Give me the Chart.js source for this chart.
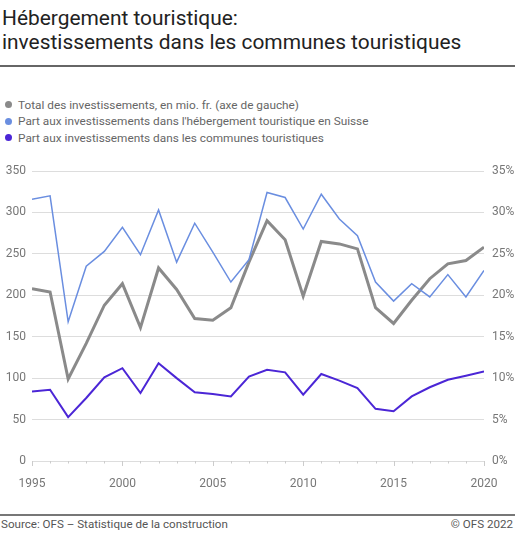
<!DOCTYPE html>
<html>
<head>
<meta charset="utf-8">
<script src="https://cdn.jsdelivr.net/npm/chart.js@4"></script>
<style>
  html, body { margin:0; padding:0; background:#fff; }
  body { width:515px; height:558px; position:relative; overflow:hidden; font-family: Roboto, "Noto Sans", sans-serif; }
  .title { position:absolute; left:2px; top:6px; font-size:20.9px; line-height:24px; color:#222; white-space:nowrap; }
  .rule { position:absolute; left:0; width:515px; background:#666; }
  .leg { position:absolute; left:0; font-size:11.8px; line-height:16px; color:#666; white-space:nowrap; }
  .leg span.dot { position:absolute; left:4.5px; top:4.5px; width:7px; height:7px; border-radius:50%; }
  .leg span.txt { position:absolute; left:18px; top:0; }
  .foot { position:absolute; top:516px; font-size:11.6px; line-height:16px; color:#555; white-space:nowrap; }
  #wrap { position:absolute; left:0; top:150px; width:515px; height:350px; }
</style>
</head>
<body>
<div class="title">Hébergement touristique:<br>investissements dans les communes touristiques</div>
<div class="rule" style="top:65px;height:2px;"></div>
<div id="legend"></div>
<div id="wrap"><canvas id="c" width="515" height="350"></canvas></div>
<div class="rule" style="top:514px;height:2px;background:#777;"></div>
<div class="foot" style="left:1px;">Source: OFS – Statistique de la construction</div>
<div class="foot" style="right:2px;">© OFS 2022</div>
<script>
const years = [1995,1996,1997,1998,1999,2000,2001,2002,2003,2004,2005,2006,2007,2008,2009,2010,2011,2012,2013,2014,2015,2016,2017,2018,2019,2020];
const totalInvest = [208,204,99,142,188,214,161,233,207,172,170,185,240,290,267,199,265,262,256,185,166,194,220,238,242,258];
const shareSuisse = [31.6,32.0,16.8,23.5,25.3,28.2,24.9,30.3,24.0,28.7,25.2,21.6,24.3,32.4,31.8,28.0,32.2,29.2,27.2,21.6,19.3,21.4,19.8,22.5,19.8,23.0];
const shareCommunes = [8.4,8.6,5.3,7.6,10.1,11.2,8.2,11.8,10.0,8.3,8.1,7.8,10.2,11.0,10.7,8.0,10.5,9.7,8.8,6.3,6.0,7.8,8.9,9.8,10.3,10.8];
const leftTicks = [0,50,100,150,200,250,300,350];
const rightTicks = [0,5,10,15,20,25,30,35];
const xLabelYears = [1995,2000,2005,2010,2015,2020];
const seriesNames = [
  "Total des investissements, en mio. fr. (axe de gauche)",
  "Part aux investissements dans l'hébergement touristique en Suisse",
  "Part aux investissements dans les communes touristiques"
];
const colors = ["#8a8a8a", "#6a8ee0", "#4b26d6"];

// legend
const legTops = [96.5, 113, 129.5];
const legEl = document.getElementById('legend');
seriesNames.forEach((n,i)=>{
  const d = document.createElement('div');
  d.className='leg'; d.style.top = legTops[i]+'px'; d.style.width='515px'; d.style.height='16px';
  d.innerHTML = '<span class="dot" style="background:'+colors[i]+'"></span><span class="txt"></span>';
  d.querySelector('.txt').textContent = n;
  legEl.appendChild(d);
});

const toXY = arr => years.map((y,i)=>({x:y, y:arr[i]}));

const xTicksPlugin = {
  id:'xTicksPlugin',
  afterDraw(chart){
    const ctx = chart.ctx, xs = chart.scales.x, bottom = chart.chartArea.bottom;
    ctx.save();
    ctx.strokeStyle = '#cccccc'; ctx.lineWidth = 1;
    years.forEach(y=>{
      const px = Math.round(xs.getPixelForValue(y)) + 0.5;
      const len = (y % 5 === 0) ? 5 : 2.5;
      ctx.beginPath(); ctx.moveTo(px, bottom); ctx.lineTo(px, bottom + len); ctx.stroke();
    });
    ctx.restore();
  }
};

new Chart(document.getElementById('c'), {
  type:'line',
  data:{
    datasets:[
      {label:seriesNames[0], data:toXY(totalInvest), yAxisID:'y', borderColor:colors[0], borderWidth:3, pointRadius:0, tension:0, order:2},
      {label:seriesNames[1], data:toXY(shareSuisse), yAxisID:'y1', borderColor:colors[1], borderWidth:1.5, pointRadius:0, tension:0, order:1},
      {label:seriesNames[2], data:toXY(shareCommunes), yAxisID:'y1', borderColor:colors[2], borderWidth:2, pointRadius:0, tension:0, order:0}
    ]
  },
  options:{
    responsive:false, animation:false, devicePixelRatio:1,
    layout:{padding:{top:21, bottom:0, left:0, right:0}},
    plugins:{legend:{display:false}, tooltip:{enabled:false}, title:{display:false}},
    scales:{
      x:{
        type:'linear', min:years[0], max:years[years.length-1],
        afterBuildTicks(s){ s.ticks = years.map(v=>({value:v})); },
        ticks:{ autoSkip:false, maxRotation:0, padding:16, color:'#777', font:{family:'Roboto', size:12},
          callback:v=> xLabelYears.includes(v) ? String(v) : '' },
        grid:{display:false, drawTicks:false}, border:{display:false},
        afterFit(s){ s.height = 39; }
      },
      y:{
        position:'left', min:0, max:350,
        afterBuildTicks(s){ s.ticks = leftTicks.map(v=>({value:v})); },
        ticks:{ padding:6, color:'#777', font:{family:'Roboto', size:12} },
        grid:{color:'#dddddd', lineWidth:1, drawTicks:false}, border:{display:false},
        afterFit(s){ s.width = 32; }
      },
      y1:{
        position:'right', min:0, max:35,
        afterBuildTicks(s){ s.ticks = rightTicks.map(v=>({value:v})); },
        ticks:{ padding:8, color:'#777', font:{family:'Roboto', size:12}, callback:v=>v+'%' },
        grid:{drawOnChartArea:false, drawTicks:false}, border:{display:false},
        afterFit(s){ s.width = 31; }
      }
    }
  },
  plugins:[xTicksPlugin]
});
</script>
</body>
</html>
